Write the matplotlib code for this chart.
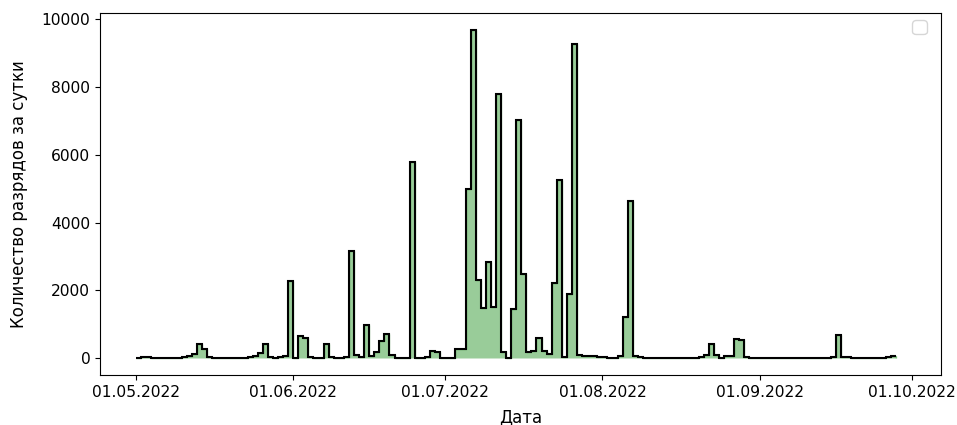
import numpy as np
import pandas as pd
import matplotlib
matplotlib.use("Agg")
import matplotlib.pyplot as plt
import matplotlib.dates as mdates

start_date = "2022-05-01"

may = [20, 40, 40, 15, 15, 10, 10, 10, 10, 30, 80, 120, 430, 290, 30, 20,
       20, 5, 5, 5, 5, 10, 30, 70, 150, 420, 30, 20, 30, 60, 2280]
june = [20, 660, 600, 40, 15, 15, 420, 40, 25, 10, 40, 3150, 110, 40, 970,
        80, 190, 500, 730, 90, 20, 20, 20, 5770, 10, 20, 40, 205, 200, 10]
july = [10, 15, 290, 290, 4980, 9680, 2300, 1480, 2850, 1510, 7770, 190, 20,
        1450, 7010, 2490, 190, 215, 590, 210, 140, 2230, 5250, 40, 1910, 9250,
        90, 80, 70, 60, 40]
august = [30, 20, 20, 60, 1225, 4640, 70, 30, 20, 20, 15, 10, 10, 15, 20, 10,
          10, 15, 20, 30, 90, 430, 90, 20, 60, 60, 560, 540, 40, 10, 10]
september = [15, 5, 5, 5, 5, 5, 5, 5, 5, 5, 10, 10, 15, 20, 40, 685, 40, 30,
             10, 10, 10, 10, 10, 20, 20, 40, 60]

values = np.array(may + june + july + august + september, dtype=float)
edges = mdates.date2num(pd.date_range(start_date, periods=len(values) + 1, freq="D"))

fig = plt.figure(figsize=(9.57, 4.25), dpi=100)
ax = fig.add_axes([0.1045, 0.118, 0.8788, 0.851])

ax.stairs(values, edges, fill=True, baseline=0,
          facecolor=(0.0, 0.5, 0.0, 0.4), edgecolor=(0.0, 0.5, 0.0, 0.4), linewidth=1)
ax.stairs(values, edges, baseline=None, color="black", linewidth=1.5)

x0 = edges[0]
ax.set_xlim(x0 - 7.1, x0 + 158.8)
ax.set_ylim(-484, 10164)

ax.xaxis.set_major_locator(mdates.MonthLocator())
ax.xaxis.set_major_formatter(mdates.DateFormatter("%d.%m.%Y"))
ax.tick_params(labelsize=11.2)
ax.set_xlabel("Дата", fontsize=12, labelpad=6)
ax.set_ylabel("Количество разрядов за сутки", fontsize=12, labelpad=10)
ax.legend(handles=[], loc="upper right", fontsize=13, borderaxespad=0,
          bbox_to_anchor=(0.983, 0.981))

fig.savefig("out.png", dpi=100)
